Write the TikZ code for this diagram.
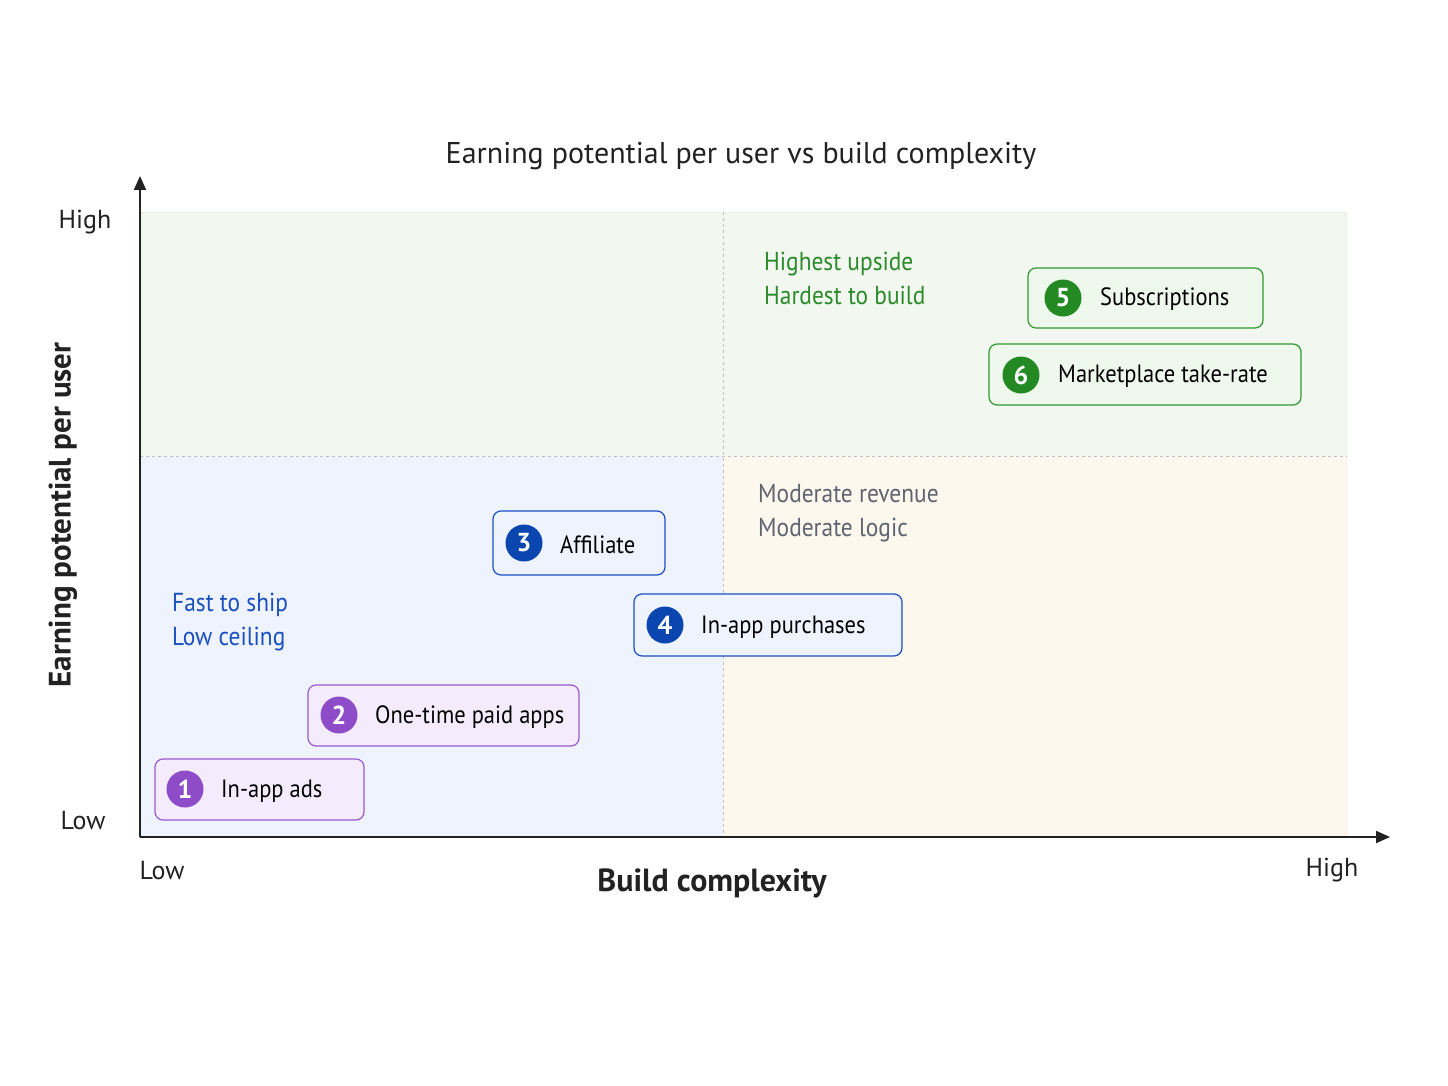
\documentclass[tikz,border=0pt]{standalone}
\usepackage{fontspec}
\setmainfont{PT Sans}
\newfontfamily\condf{PT Sans}[FakeStretch=0.9]
\usetikzlibrary{arrows.meta}
\definecolor{pB}{HTML}{9B59D0}\definecolor{pF}{HTML}{F4ECFC}\definecolor{pC}{HTML}{8E4CC9}
\definecolor{bB}{HTML}{1A4FC0}\definecolor{bF}{HTML}{EEF3FE}\definecolor{bC}{HTML}{0B45B0}
\definecolor{gB}{HTML}{2E9A2E}\definecolor{gF}{HTML}{EFF8EC}\definecolor{gC}{HTML}{238A23}
\definecolor{qG}{HTML}{F2F8EF}\definecolor{qB}{HTML}{EEF3FD}\definecolor{qY}{HTML}{FDF8EE}
\definecolor{gt}{HTML}{2A8A2A}\definecolor{gray1}{HTML}{5F6470}\definecolor{ink}{HTML}{222222}
\begin{document}
\begin{tikzpicture}[x=1pt,y=-1pt,
  box/.style={draw=#1B,fill=#1F,rounded corners=8pt,line width=1.2pt},
  num/.style={circle,fill=#1C,text=white,minimum size=37pt,inner sep=0pt,font=\fontsize{26}{26}\selectfont\bfseries},
  lab/.style={anchor=west,text=black,font=\condf\fontsize{25}{25}\selectfont,inner sep=0pt},
  note/.style={anchor=west,align=left,font=\condf\fontsize{26}{34}\selectfont,inner sep=0pt},
  axl/.style={font=\fontsize{26}{26}\selectfont,text=ink,inner sep=0pt}]
\useasboundingbox[fill=white] (0,0) rectangle (1448,1086);
\fill[qG] (140,212) rectangle (1347,456);
\fill[qB] (140,456) rectangle (723,837);
\fill[qY] (723,456) rectangle (1347,837);
\draw[black!15,rounded corners=4pt] (140,837) -- (140,212) -- (1347,212) -- (1347,837);
\draw[black!25,dashed] (723,212) -- (723,837);
\draw[black!25,dashed] (140,456) -- (1347,456);
\coordinate (o) at (140,837);
\coordinate (ytop) at (140,176);
\coordinate (xend) at (1390,837);
\draw[ink,line width=2pt,-{Triangle[length=14pt,width=12pt]}] (o) -- (ytop);
\draw[ink,line width=2pt,-{Triangle[length=14pt,width=12pt]}] (o) -- (xend);
\node[font=\fontsize{30}{30}\selectfont,text=ink] (title) at (741,156) {Earning potential per user vs build complexity};
\node[axl] (yh) at (85,222) {High};
\node[axl] (yl) at (83,821) {Low};
\node[axl] (xl) at (162,871) {Low};
\node[axl] (xh) at (1332,870) {High};
\node[font=\fontsize{32}{32}\selectfont\bfseries,text=ink] (xt) at (712,883) {Build complexity};
\node[font=\fontsize{31}{31}\selectfont\bfseries,text=ink,rotate=90] (yt) at (63,515) {Earning potential per user};
\node[note,text=bB] (n1) at (172,622) {Fast to ship\\Low ceiling};
\node[note,text=gt] (n2) at (764,278) {Highest upside\\Hardest to build};
\node[note,text=gray1] (n3) at (758,513) {Moderate revenue\\Moderate logic};
\draw[box=p] (155,759) rectangle (364,820);
\node[num=p] (c1) at (185,789) {1}; \node[lab] (t1) at (221,791) {In-app ads};
\draw[box=p] (308,685) rectangle (579,746);
\node[num=p] (c2) at (339,715) {2}; \node[lab] (t2) at (375,717) {One-time paid apps};
\draw[box=b] (493,511) rectangle (665,575);
\node[num=b] (c3) at (524,543) {3}; \node[lab] (t3) at (560,545) {Affiliate};
\draw[box=b] (634,594) rectangle (902,656);
\node[num=b] (c4) at (665,625) {4}; \node[lab] (t4) at (701,627) {In-app purchases};
\draw[box=g] (1028,268) rectangle (1263,328);
\node[num=g] (c5) at (1063,298) {5}; \node[lab] (t5) at (1100,299) {Subscriptions};
\draw[box=g] (989,344) rectangle (1301,405);
\node[num=g] (c6) at (1021,375) {6}; \node[lab] (t6) at (1058,376) {Marketplace take-rate};
\end{tikzpicture}
\end{document}
